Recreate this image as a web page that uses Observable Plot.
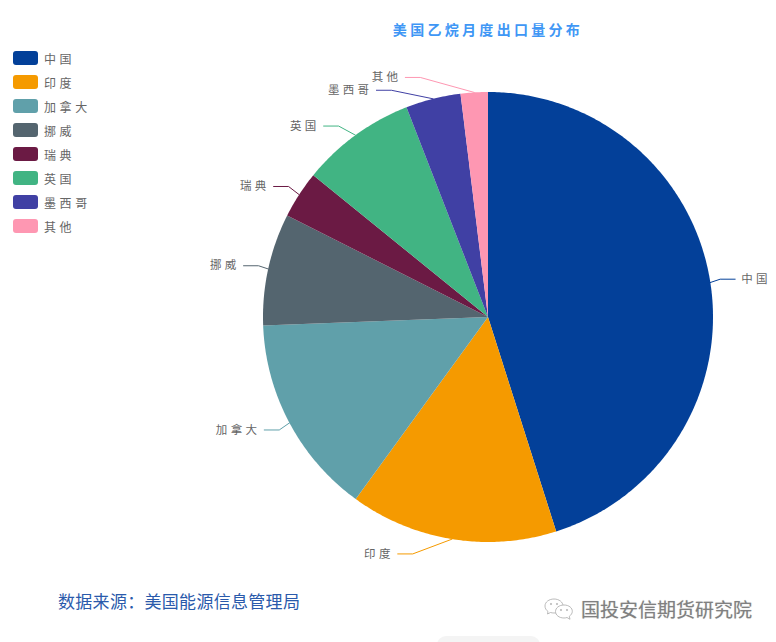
<!DOCTYPE html>
<html lang="zh">
<head>
<meta charset="utf-8">
<script src="https://cdn.jsdelivr.net/npm/d3@7"></script>
<script src="https://cdn.jsdelivr.net/npm/@observablehq/plot@0.6"></script>
<style>
html,body{margin:0;padding:0;background:#fff;}
#page{position:relative;width:776px;height:642px;overflow:hidden;font-family:"Noto Sans CJK SC","Noto Sans",sans-serif;}
#chart{position:absolute;left:0;top:0;}
#title{position:absolute;left:288px;width:400px;top:19px;text-align:center;font-size:14px;line-height:20px;font-weight:700;letter-spacing:3.3px;color:#3f97f5;}
#legend{position:absolute;left:13px;top:46px;}
.item{display:flex;align-items:center;height:24px;font-size:12px;letter-spacing:3.6px;color:#666;}
.swatch{width:25px;height:14px;border-radius:3px;margin-right:6px;}
#source{position:absolute;left:58px;top:589px;font-size:17px;line-height:24px;color:#2a5aab;letter-spacing:.3px;white-space:nowrap;}
#brand{position:absolute;left:581px;top:596px;font-size:19px;line-height:26px;color:#808080;text-shadow:0 0 1px #bbb;white-space:nowrap;}
#icon{position:absolute;left:543px;top:596px;}
#corner{position:absolute;left:437px;top:636px;width:103px;height:20px;border-radius:9px;background:#f4f4f4;}
</style>
</head>
<body>
<div id="page">
  <div id="chart"></div>
  <div id="title"></div>
  <div id="legend"></div>
  <div id="source"></div>
  <svg id="icon" width="34" height="28" viewBox="0 0 34 28" fill="#fff" stroke="#aaa" stroke-width="0.8">
    <path d="M11 3c-5 0-9 3-9 7 0 2.300 1.200 4.200 3 5.500L4.500 18l3-1.500c1 .3 2.300.5 3.500.5 5 0 9-3 9-7s-4-7-9-7z"/>
    <path d="M21 9c-5 0-8.500 3-8.500 6.500S16 22 21 22c1 0 2-.2 3-.5l3 1.800-.7-3c1.800-1.300 3-3 3-4.800C29.500 12 26 9 21 9z"/>
    <circle cx="8" cy="8" r=".7"/><circle cx="14" cy="8" r=".7"/><circle cx="18" cy="14" r=".7"/><circle cx="24" cy="14" r=".7"/>
  </svg>
  <div id="brand"></div>
  <div id="corner"></div>
</div>
<script>
// ---- data ----
const titleText = "美国乙烷月度出口量分布";
const sourceText = "数据来源\uFF1A美国能源信息管理局";
const brandText = "国投安信期货研究院";
const names  = ["中国", "印度", "加拿大", "挪威", "瑞典", "英国", "墨西哥", "其他"];
const shares = [45.1, 14.9, 14.4, 8.05, 3.4, 8.25, 3.95, 1.95];
const colors = ["#034099", "#f59a00", "#60a0aa", "#54656f", "#6b1a44", "#41b483", "#4040a4", "#fe97b2"];

// ---- layout (pixels) ----
const W = 776, H = 642, CX = 487.5, CY = 316.5, R = 225;
const leadLen = 15, tailLen = 15, labelGap = 6;
// offsets of each leader's elbow from its radial position, from label collision avoidance
const elbowDx = [-5, -37, 3, 5, 2, -8, -38, -53];
const elbowDy = [-1, 0, 0, 0, 0, 3, 6, 0];

// ---- geometry derived from the values ----
const arcs = d3.pie().sort(null).value((d, i) => shares[i])(names);
const polar = (a, r) => [Math.sin(a) * r, Math.cos(a) * r];
const wedges = arcs.flatMap((arc, i) => {
  const n = Math.max(2, Math.ceil((arc.endAngle - arc.startAngle) / 0.01));
  const rim = d3.range(n + 1).map(k => polar(arc.startAngle + (arc.endAngle - arc.startAngle) * k / n, 1));
  return [[0, 0], ...rim].map(([x, y]) => ({name: names[i], x, y}));
});
const leaders = arcs.flatMap((arc, i) => {
  const mid = (arc.startAngle + arc.endAngle) / 2;
  const [sx, sy] = polar(mid, 1);
  const [ex, ey] = polar(mid, (R + leadLen) / R);
  const kx = ex + elbowDx[i] / R, ky = ey - elbowDy[i] / R;
  const dir = sx >= 0 ? 1 : -1;
  return [
    {name: names[i], x: sx, y: sy},
    {name: names[i], x: kx, y: ky},
    {name: names[i], x: kx + dir * tailLen / R, y: ky}
  ];
});
const labels = arcs.map((arc, i) => {
  const end = leaders[i * 3 + 2];
  return {name: names[i], x: end.x, y: end.y, right: end.x >= 0};
});

// ---- chart ----
const plot = Plot.plot({
  width: W, height: H,
  margin: 0,
  x: {domain: [-CX / R, (W - CX) / R], range: [0, W], axis: null},
  y: {domain: [(CY - H) / R, CY / R], range: [H, 0], axis: null},
  color: {domain: names, range: colors},
  style: {background: "transparent", fontFamily: '"Noto Sans CJK SC", sans-serif', letterSpacing: "3.3px"},
  marks: [
    Plot.line(wedges, {x: "x", y: "y", z: "name", fill: "name", stroke: null}),
    Plot.line(leaders, {x: "x", y: "y", z: "name", stroke: "name", strokeWidth: 1, curve: "linear"}),
    Plot.text(labels.filter(d => d.right), {x: "x", y: "y", text: "name", textAnchor: "start", dx: labelGap, fontSize: 11.5, fill: "#666"}),
    Plot.text(labels.filter(d => !d.right), {x: "x", y: "y", text: "name", textAnchor: "end", dx: -labelGap + 2, fontSize: 11.5, fill: "#666"})
  ]
});
document.getElementById("chart").appendChild(plot);

document.getElementById("title").textContent = titleText;
document.getElementById("source").textContent = sourceText;
document.getElementById("brand").textContent = brandText;
const legend = document.getElementById("legend");
names.forEach((n, i) => {
  const row = document.createElement("div");
  row.className = "item";
  const sw = document.createElement("span");
  sw.className = "swatch";
  sw.style.background = colors[i];
  const tx = document.createElement("span");
  tx.textContent = n;
  row.append(sw, tx);
  legend.append(row);
});
</script>
</body>
</html>
